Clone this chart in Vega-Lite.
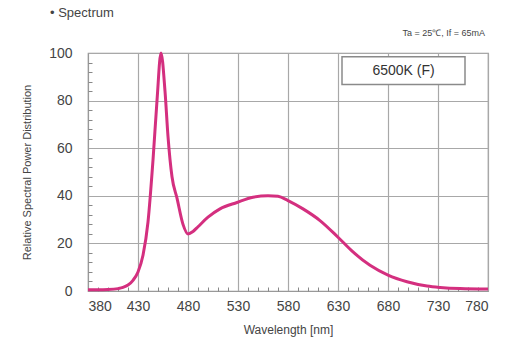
{
  "$schema": "https://vega.github.io/schema/vega-lite/v6.json",
  "autosize": "none",
  "width": 400,
  "height": 238,
  "padding": {"left": 88, "top": 53, "right": 27, "bottom": 49},
  "background": "white",
  "config": {
    "view": {"stroke": "#999999", "strokeWidth": 1.2},
    "font": "Liberation Sans"
  },
  "resolve": {"axis": {"x": "independent", "y": "independent"}},
  "datasets": {
    "spectrum": [
      {"wl": 380, "v": 0.5}, {"wl": 390, "v": 0.5}, {"wl": 400, "v": 0.6},
      {"wl": 410, "v": 1.0}, {"wl": 415, "v": 1.5}, {"wl": 420, "v": 2.5},
      {"wl": 425, "v": 4.5}, {"wl": 430, "v": 8}, {"wl": 435, "v": 15},
      {"wl": 440, "v": 29}, {"wl": 445, "v": 55}, {"wl": 449, "v": 80},
      {"wl": 453, "v": 100}, {"wl": 457, "v": 84}, {"wl": 460, "v": 65},
      {"wl": 464, "v": 48}, {"wl": 469, "v": 39}, {"wl": 475, "v": 28},
      {"wl": 480, "v": 24}, {"wl": 485, "v": 25}, {"wl": 490, "v": 27},
      {"wl": 500, "v": 31}, {"wl": 512, "v": 34.5}, {"wl": 529, "v": 37.2},
      {"wl": 545, "v": 39.4}, {"wl": 560, "v": 40}, {"wl": 570, "v": 39.8},
      {"wl": 580, "v": 38}, {"wl": 595, "v": 34.5}, {"wl": 612, "v": 29.6},
      {"wl": 630, "v": 22.6}, {"wl": 645, "v": 16.4}, {"wl": 662, "v": 10.8},
      {"wl": 680, "v": 6.7}, {"wl": 699, "v": 3.9}, {"wl": 719, "v": 2.1},
      {"wl": 732, "v": 1.5}, {"wl": 752, "v": 1.0}, {"wl": 780, "v": 0.8}
    ],
    "box": [{"x1": 634, "x2": 757, "y1": 86.8, "y2": 98.4, "label": "6500K (F)", "xm": 695.5, "ym": 92.4}],
    "note": [{"x": 777, "y": 108.5, "label": "Ta = 25℃,  If = 65mA"}],
    "heading": [{"x": 342, "y": 117, "label": "• Spectrum"}]
  },
  "layer": [
    {
      "data": {"name": "spectrum"},
      "mark": {"type": "line", "color": "#d42f7f", "strokeWidth": 3, "interpolate": "monotone"},
      "encoding": {
        "x": {
          "field": "wl", "type": "quantitative",
          "scale": {"domain": [380, 780], "nice": false, "zero": false},
          "axis": {
            "orient": "bottom",
            "title": "Wavelength [nm]",
            "titleFontSize": 12, "titleFontWeight": "normal", "titleColor": "#444444", "titlePadding": 11,
            "values": [380, 430, 480, 530, 580, 630, 680, 730, 780],
            "labelOverlap": false,
            "labelFontSize": 14, "labelColor": "#444444", "labelPadding": 8,
            "grid": true, "gridColor": "#a8a8a8", "gridWidth": 1.2,
            "ticks": false,
            "domainColor": "#999999"
          }
        },
        "y": {
          "field": "v", "type": "quantitative",
          "scale": {"domain": [0, 100], "nice": false},
          "axis": {
            "orient": "left",
            "title": "Relative Spectral Power Distribution",
            "titleFontSize": 11, "titleFontWeight": "normal", "titleColor": "#444444", "titlePadding": 16,
            "values": [0, 20, 40, 60, 80, 100],
            "labelOverlap": false,
            "labelFontSize": 14, "labelColor": "#444444", "labelPadding": 16,
            "grid": true, "gridColor": "#a8a8a8", "gridWidth": 1.2,
            "ticks": false,
            "domainColor": "#999999"
          }
        }
      }
    },
    {
      "data": {"name": "box"},
      "mark": {"type": "rect", "fill": "white", "stroke": "#8a8a8a", "strokeWidth": 1.5},
      "encoding": {
        "x": {"field": "x1", "type": "quantitative", "axis": null},
        "x2": {"field": "x2"},
        "y": {"field": "y1", "type": "quantitative", "axis": null},
        "y2": {"field": "y2"}
      }
    },
    {
      "data": {"name": "box"},
      "mark": {"type": "text", "fontSize": 14, "color": "#333333", "align": "center", "baseline": "middle"},
      "encoding": {
        "x": {"field": "xm", "type": "quantitative", "axis": null},
        "y": {"field": "ym", "type": "quantitative", "axis": null},
        "text": {"field": "label"}
      }
    },
    {
      "data": {"name": "note"},
      "mark": {"type": "text", "fontSize": 9, "color": "#444444", "align": "right", "baseline": "middle"},
      "encoding": {
        "x": {"field": "x", "type": "quantitative", "axis": null},
        "y": {"field": "y", "type": "quantitative", "axis": null},
        "text": {"field": "label"}
      }
    },
    {
      "data": {"name": "heading"},
      "mark": {"type": "text", "fontSize": 13, "color": "#444444", "align": "left", "baseline": "middle"},
      "encoding": {
        "x": {
          "field": "x", "type": "quantitative",
          "axis": {
            "orient": "bottom", "title": null, "labels": false, "grid": false, "domain": false,
            "values": [390,400,410,420,440,450,460,470,490,500,510,520,540,550,560,570,590,600,610,620,640,650,660,670,690,700,710,720,740,750,760,770],
            "ticks": true, "tickSize": -4, "tickColor": "#888888", "tickWidth": 1
          }
        },
        "y": {
          "field": "y", "type": "quantitative",
          "axis": {
            "orient": "left", "title": null, "labels": false, "grid": false, "domain": false,
            "values": [4,8,12,16,24,28,32,36,44,48,52,56,64,68,72,76,84,88,92,96],
            "ticks": true, "tickSize": -4, "tickColor": "#888888", "tickWidth": 1
          }
        },
        "text": {"field": "label"}
      }
    }
  ]
}
